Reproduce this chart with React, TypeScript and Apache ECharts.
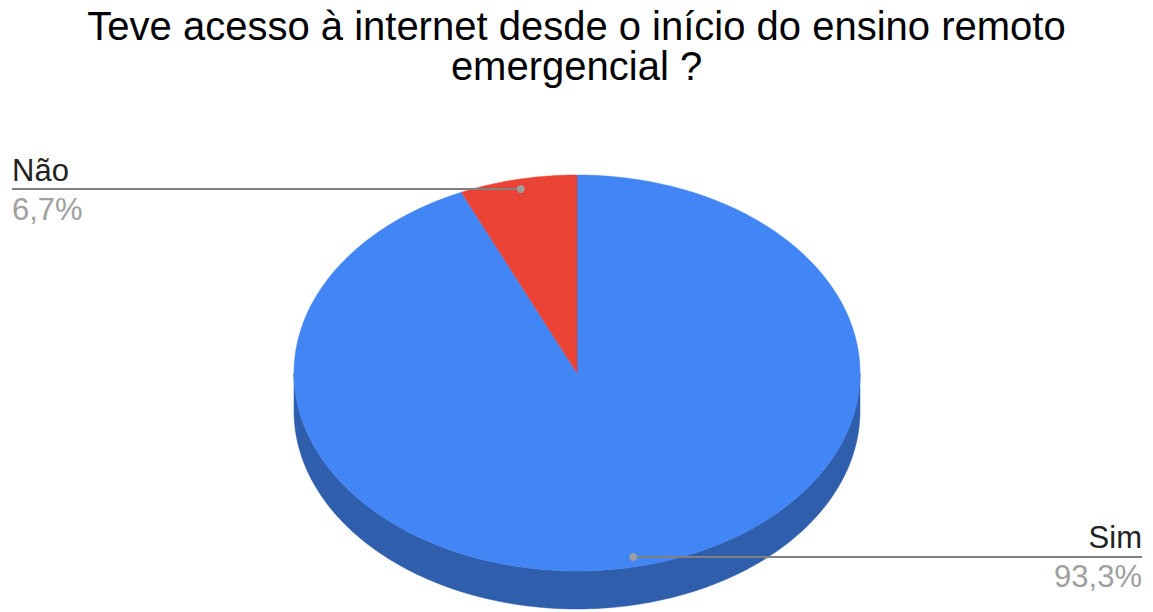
import React, { useEffect, useRef } from 'react';
import * as echarts from 'echarts';

const TITLE_LINES = ['Teve acesso à internet desde o início do ensino remoto', 'emergencial ?'];
const categories = ['Sim', 'Não'];
const values = [93.3, 6.7];
const topColors = ['#4285F4', '#EA4335'];
const sideColors = ['#2F5EAD', '#A8302A'];

const W = 1153;
const H = 612;
const CX = 577;
const CY = 373;
const RX = 283;
const RY = 198;
const DEPTH = 38;
const LABEL_R = 0.95;
const LEFT_X = 12;
const RIGHT_X = 1142;
const FONT = 'Liberation Sans, Arial, sans-serif';

function pt(t: number, dy = 0, s = 1): number[] {
  return [CX + RX * s * Math.sin(t), CY - RY * s * Math.cos(t) + dy];
}

function arc(s: number, e: number, dy: number): number[][] {
  const n = Math.max(2, Math.ceil((e - s) / (Math.PI / 360)));
  const out: number[][] = [];
  for (let k = 0; k <= n; k++) {
    out.push(pt(s + ((e - s) * k) / n, dy));
  }
  return out;
}

function renderItem(params: any, api: any) {
  const i = params.dataIndex;
  const v = api.value(0);
  const total = values.reduce((a, b) => a + b, 0);
  let before = 0;
  for (let k = 0; k < i; k++) before += values[k];
  const a0 = (before / total) * Math.PI * 2;
  const a1 = ((before + v) / total) * Math.PI * 2;
  const children: any[] = [];

  const s = Math.max(a0, Math.PI / 2);
  const e = Math.min(a1, (Math.PI * 3) / 2);
  if (e > s) {
    const topEdge = arc(s, e, 0);
    const botEdge = arc(s, e, DEPTH).reverse();
    children.push({
      type: 'polygon',
      z2: 0,
      shape: { points: topEdge.concat(botEdge) },
      style: { fill: sideColors[i], stroke: sideColors[i], lineWidth: 0.5 },
    });
  }

  children.push({
    type: 'polygon',
    z2: 1,
    shape: { points: [[CX, CY]].concat(arc(a0, a1, 0)) },
    style: { fill: topColors[i], stroke: topColors[i], lineWidth: 0.5 },
  });

  const mid = (a0 + a1) / 2;
  const d = pt(mid, 0, LABEL_R);
  const left = Math.sin(mid) < 0;
  const xEnd = left ? LEFT_X : RIGHT_X;
  const pct = ((v / total) * 100).toFixed(1).replace('.', ',') + '%';

  children.push({
    type: 'line',
    z2: 2,
    shape: { x1: d[0], y1: d[1], x2: xEnd, y2: d[1] },
    style: { stroke: '#808080', lineWidth: 2 },
  });
  children.push({
    type: 'circle',
    z2: 3,
    shape: { cx: d[0], cy: d[1], r: 4 },
    style: { fill: '#9E9E9E' },
  });
  children.push({
    type: 'text',
    z2: 3,
    x: xEnd,
    y: d[1] - 19,
    style: {
      text: categories[i],
      fill: '#222222',
      fontSize: 31,
      fontFamily: FONT,
      align: left ? 'left' : 'right',
      verticalAlign: 'middle',
    },
  });
  children.push({
    type: 'text',
    z2: 3,
    x: xEnd,
    y: d[1] + 20,
    style: {
      text: pct,
      fill: '#A0A0A0',
      fontSize: 31,
      fontFamily: FONT,
      align: left ? 'left' : 'right',
      verticalAlign: 'middle',
    },
  });

  return { type: 'group', children };
}

export default function App() {
  const ref = useRef<HTMLDivElement>(null);
  useEffect(() => {
    if (!ref.current) return;
    const chart = echarts.init(ref.current, null, { renderer: 'svg', width: W, height: H });
    const titleStyle = {
      fontSize: 40,
      lineHeight: 40,
      fontWeight: 'normal',
      fontFamily: FONT,
      color: '#000000',
    };
    chart.setOption({
      animation: false,
      backgroundColor: '#ffffff',
      title: TITLE_LINES.map((t, k) => ({
        text: t,
        left: 'center',
        top: 6 + k * 40,
        padding: 0,
        textStyle: titleStyle,
      })),
      series: [
        {
          type: 'custom',
          coordinateSystem: 'none',
          silent: true,
          renderItem,
          data: values,
        },
      ],
    });
    return () => chart.dispose();
  }, []);
  return (
    <div
      ref={ref}
      style={{ position: 'fixed', left: 0, top: 0, width: W, height: H, background: '#fff' }}
    />
  );
}
